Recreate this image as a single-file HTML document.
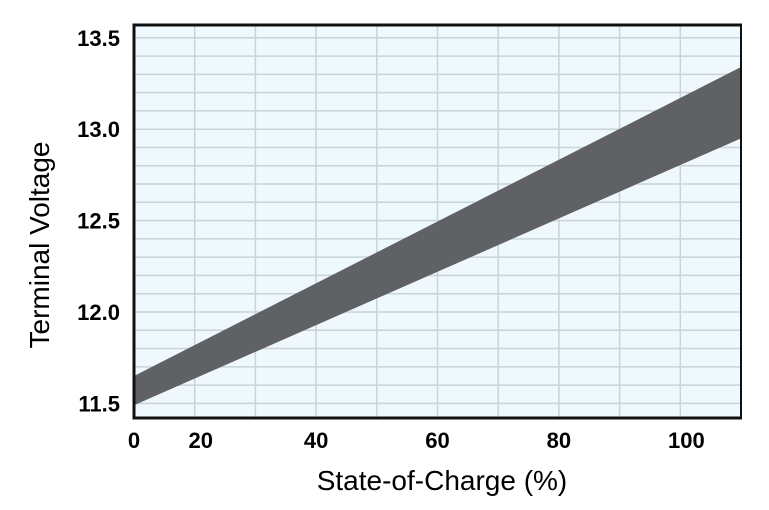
<!DOCTYPE html>
<html><head><meta charset="utf-8"><style>
body{margin:0;background:#fff;}
svg{display:block;font-family:"Liberation Sans",Arial,sans-serif;}
</style></head><body>
<svg id="chart" width="769" height="510" viewBox="0 0 769 510"></svg>
<script>
const socValues = [10, 110];
const upperVoltage = [11.65, 13.34];
const lowerVoltage = [11.49, 12.95];
const xTickValues = [10, 21, 40, 60, 80, 101];
const xTickLabels = ["0", "20", "40", "60", "80", "100"];
const yTickValues = [13.5, 13.0, 12.5, 12.0, 11.5];
const yTickLabels = ["13.5", "13.0", "12.5", "12.0", "11.5"];

const L = 134, R = 741, T = 25, B = 418;
const xMin = 10, xMax = 110, yMin = 11.42, yMax = 13.57;
function xs(v){ return L + (v - xMin) / (xMax - xMin) * (R - L); }
function ys(v){ return B - (v - yMin) / (yMax - yMin) * (B - T); }
const NS = "http://www.w3.org/2000/svg";
const svg = document.getElementById('chart');
function mk(tag, attrs, parent){ const e = document.createElementNS(NS, tag); for (const k in attrs) e.setAttribute(k, attrs[k]); (parent||svg).appendChild(e); return e; }

const bg = mk('rect', {x:L, y:T, width:R-L, height:B-T, fill:'#eef8fd'});



const grid = mk('g', {stroke:'#c9d3d8', 'stroke-width':1.5});


for (let v = 20; v < 110; v += 10) mk('line', {x1:xs(v), x2:xs(v), y1:T, y2:B}, grid);
for (let i = 0; ; i++) { const v = 11.5 + i*0.1; if (v > yMax) break; mk('line', {x1:L, x2:R, y1:ys(v), y2:ys(v)}, grid); }

let d = 'M' + xs(socValues[0]) + ',' + ys(upperVoltage[0]);
for (let i = 1; i < socValues.length; i++) d += ' L' + xs(socValues[i]) + ',' + ys(upperVoltage[i]);
for (let i = socValues.length - 1; i >= 0; i--) d += ' L' + xs(socValues[i]) + ',' + ys(lowerVoltage[i]);
const band = mk('path', {d: d + ' Z', fill:'#5f6164'});



const frame = mk('g', {stroke:'#111', fill:'none'});


mk('line', {x1:L, x2:R, y1:T, y2:T, 'stroke-width':3}, frame);
mk('line', {x1:L, x2:R, y1:B, y2:B, 'stroke-width':3}, frame);
mk('line', {x1:L, x2:L, y1:T-1.5, y2:B+1.5, 'stroke-width':3}, frame);
mk('line', {x1:R, x2:R, y1:T-1.5, y2:B+1.5, 'stroke-width':2}, frame);

xTickValues.forEach((v, i) => {
  const t = mk('text', {x:xs(v), y:448, 'text-anchor':'middle', 'font-size':22, 'font-weight':'bold', fill:'#000'});
  t.textContent = xTickLabels[i];
  
  
});
yTickValues.forEach((v, i) => {
  const t = mk('text', {x:120, y:ys(v)+8, 'text-anchor':'end', 'font-size':22, 'font-weight':'bold', fill:'#000'});
  t.textContent = yTickLabels[i];
  
  
});
const xt = mk('text', {x:442, y:490, 'text-anchor':'middle', 'font-size':28, fill:'#000'});
xt.textContent = 'State-of-Charge (%)';


const yt = mk('text', {x:0, y:0, 'text-anchor':'middle', 'font-size':28, fill:'#000', transform:'translate(49,245) rotate(-90)'});
yt.textContent = 'Terminal Voltage';


</script>
</body></html>
